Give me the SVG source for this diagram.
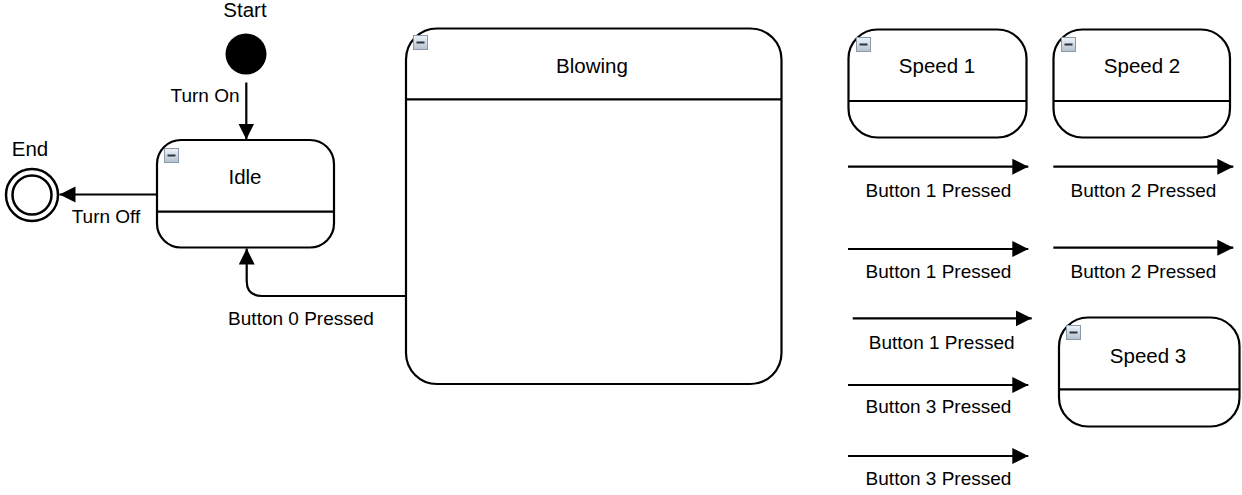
<svg xmlns="http://www.w3.org/2000/svg" width="1242" height="495" viewBox="0 0 1242 495">
<style>
.st{fill:#fff;stroke:#000;stroke-width:2.2}
.dv{stroke:#000;stroke-width:2.2}
.nm{font-family:"Liberation Sans",Arial,sans-serif;font-size:20.5px;fill:#000;text-anchor:middle}
.lb{font-family:"Liberation Sans",Arial,sans-serif;font-size:19px;fill:#000;text-anchor:middle}
.cn{fill:none;stroke:#000;stroke-width:2.2}
.ic{fill:url(#icg);stroke:#8a9aab;stroke-width:1}
.icm{stroke:#2a3440;stroke-width:2}
</style>
<defs>
<linearGradient id="icg" x1="0" y1="0" x2="0" y2="1">
<stop offset="0" stop-color="#f0f4f8"/>
<stop offset="1" stop-color="#b4c0cc"/>
</linearGradient>
<marker id="ah" markerUnits="userSpaceOnUse" markerWidth="18" markerHeight="18" refX="16" refY="8" orient="auto">
<path d="M0,0 L16,8 L0,16 Z" fill="#000"/>
</marker>
<g id="icon">
<rect class="ic" x="0.5" y="0.5" width="14" height="14"/>
<line class="icm" x1="3.5" y1="7.5" x2="11.5" y2="7.5"/>
</g>
</defs>
<rect x="0" y="0" width="1242" height="495" fill="#fff"/>

<g id="start">
<text class="nm" x="245" y="17">Start</text>
<circle cx="246" cy="54" r="20.5" fill="#000"/>
</g>

<g id="end">
<text class="nm" x="30" y="156">End</text>
<circle cx="32" cy="195" r="26" fill="#fff" stroke="#000" stroke-width="2.5"/>
<circle cx="32" cy="195" r="19.5" fill="#fff" stroke="#000" stroke-width="2.5"/>
</g>

<g id="idle">
<rect class="st" x="157" y="140" width="177" height="107.5" rx="24"/>
<line class="dv" x1="157" y1="211.7" x2="334" y2="211.7"/>
<use href="#icon" x="164" y="148"/>
<text class="nm" x="245" y="184">Idle</text>
</g>

<g id="blowing">
<rect class="st" x="406" y="28.5" width="375.5" height="355.5" rx="31"/>
<line class="dv" x1="406" y1="99.3" x2="781.5" y2="99.3"/>
<use href="#icon" x="413" y="35"/>
<text class="nm" x="592" y="73">Blowing</text>
</g>

<g id="speed1">
<rect class="st" x="848.5" y="29.5" width="178" height="108" rx="29"/>
<line class="dv" x1="848.5" y1="101" x2="1026.5" y2="101"/>
<use href="#icon" x="856" y="37"/>
<text class="nm" x="937" y="73">Speed 1</text>
</g>

<g id="speed2">
<rect class="st" x="1053.5" y="29.5" width="176.5" height="108" rx="29"/>
<line class="dv" x1="1053.5" y1="101" x2="1230" y2="101"/>
<use href="#icon" x="1061" y="37"/>
<text class="nm" x="1142" y="73">Speed 2</text>
</g>

<g id="speed3">
<rect class="st" x="1059" y="317.5" width="180.5" height="109" rx="29"/>
<line class="dv" x1="1059" y1="389.3" x2="1239.5" y2="389.3"/>
<use href="#icon" x="1066" y="325"/>
<text class="nm" x="1148" y="363">Speed 3</text>
</g>

<g id="connectors">
<line class="cn" x1="246.3" y1="82.5" x2="246.3" y2="139.5" marker-end="url(#ah)"/>
<text class="lb" x="205" y="102">Turn On</text>
<line class="cn" x1="157" y1="194.5" x2="59.5" y2="194.5" marker-end="url(#ah)"/>
<text class="lb" x="106" y="223">Turn Off</text>
<path class="cn" d="M406,296 H262 Q246.7,296 246.7,281 V248.5" marker-end="url(#ah)"/>
<text class="lb" x="301" y="325">Button 0 Pressed</text>

<line class="cn" x1="848" y1="166.7" x2="1028.3" y2="166.7" marker-end="url(#ah)"/>
<text class="lb" x="938.5" y="196.7">Button 1 Pressed</text>
<line class="cn" x1="1053.3" y1="166.7" x2="1233.3" y2="166.7" marker-end="url(#ah)"/>
<text class="lb" x="1143.5" y="196.7">Button 2 Pressed</text>

<line class="cn" x1="848" y1="249" x2="1028.3" y2="249" marker-end="url(#ah)"/>
<text class="lb" x="938.5" y="278.3">Button 1 Pressed</text>
<line class="cn" x1="1053.3" y1="247.7" x2="1233.3" y2="247.7" marker-end="url(#ah)"/>
<text class="lb" x="1143.5" y="278.3">Button 2 Pressed</text>

<line class="cn" x1="852.7" y1="318.3" x2="1031.7" y2="318.3" marker-end="url(#ah)"/>
<text class="lb" x="941.7" y="349.3">Button 1 Pressed</text>

<line class="cn" x1="848" y1="385" x2="1028.3" y2="385" marker-end="url(#ah)"/>
<text class="lb" x="938.5" y="413.3">Button 3 Pressed</text>

<line class="cn" x1="848" y1="456" x2="1028.3" y2="456" marker-end="url(#ah)"/>
<text class="lb" x="938.5" y="485">Button 3 Pressed</text>
</g>
</svg>
